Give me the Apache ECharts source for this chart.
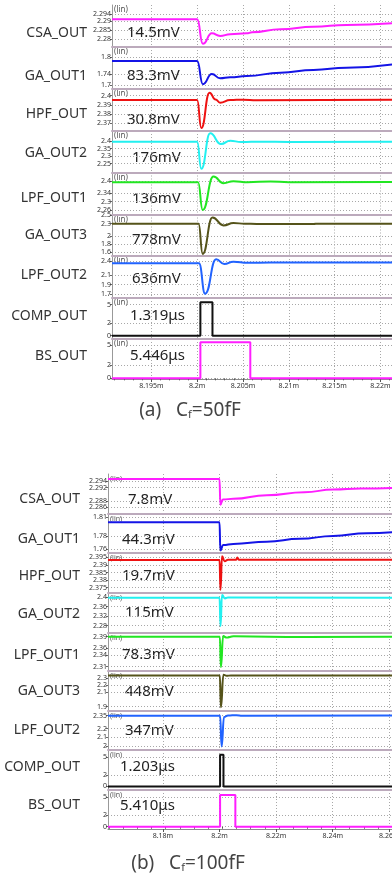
<!DOCTYPE html>
<html>
<head>
<meta charset="utf-8">
<script src="https://cdn.jsdelivr.net/npm/echarts@6/dist/echarts.min.js"></script>
<style>
  html, body { margin: 0; padding: 0; background: #fff; }
  #chart { width: 392px; height: 876px; }
</style>
</head>
<body>
<div id="chart"></div>
<script>
// signal names and colours (same order in both panels)
const signalNames = ['CSA_OUT', 'GA_OUT1', 'HPF_OUT', 'GA_OUT2', 'LPF_OUT1', 'GA_OUT3', 'LPF_OUT2', 'COMP_OUT', 'BS_OUT'];
const signalColors = ['#ff1eff', '#1414e6', '#ee1111', '#22f0f0', '#22e622', '#55531a', '#2163ff', '#111111', '#ff1eff'];
const digital = [false, false, false, false, false, false, false, true, true];

// measured amplitudes
const valuesA = ['14.5mV', '83.3mV', '30.8mV', '176mV', '136mV', '778mV', '636mV', '1.319μs', '5.446μs'];
const valuesB = ['7.8mV', '44.3mV', '19.7mV', '115mV', '78.3mV', '448mV', '347mV', '1.203μs', '5.410μs'];

// time axis (µs), labels shown as ms
const xRangeA = [8190.7, 8221.38];
const xTicksA = [8195, 8200, 8205, 8210, 8215, 8220];
const xRangeB = [8160.6, 8261.3];
const xTicksB = [8180, 8200, 8220, 8240, 8260];

// y tick labels per strip
const yTicksA = [
  [2.294, 2.29, 2.285, 2.28], [1.8, 1.74, 1.7], [2.4, 2.39, 2.38, 2.37], [2.4, 2.35, 2.3, 2.25],
  [2.4, 2.34, 2.3, 2.26], [2.5, 2.3, 2, 1.8, 1.6], [2.4, 2.1, 1.9, 1.7], [5, 2, 0], [5, 2, 0]
];
const yTicksB = [
  [2.294, 2.292, 2.288, 2.286], [1.81, 1.78, 1.76], [2.395, 2.39, 2.385, 2.38, 2.375], [2.4, 2.36, 2.32, 2.28],
  [2.39, 2.36, 2.34, 2.31], [2.3, 2.2, 2.1, 1.9], [2.35, 2.2, 2.1, 2], [5, 2, 0], [5, 2, 0]
];
// y ranges per strip
const yRangeA = [
  [2.2754, 2.2994], [1.6856, 1.8372], [2.3616, 2.4073], [2.1915, 2.4672], [2.237, 2.4426],
  [1.5095, 2.524], [1.6143, 2.506], [-0.53, 6.08], [-0.1, 5.89]
];
const yRangeB = [
  [2.284, 2.2961], [1.7537, 1.8152], [2.3715, 2.3979], [2.249, 2.418], [2.2985, 2.40],
  [1.839, 2.403], [1.954, 2.404], [-0.6, 6.23], [-0.39, 6.26]
];

// (a) Cf=50fF waveforms, [time µs, volts]
const csaA = [[8190.7, 2.2912], [8200.0, 2.2912], [8200.62, 2.2772], [8201.6, 2.2832], [8202.5, 2.2817], [8203.6, 2.2827], [8205.4, 2.2832], [8206.0, 2.2838], [8209.1, 2.2855], [8212.7, 2.2870], [8216.3, 2.2880], [8221.4, 2.2890]];
const ga1A = [[8190.7, 1.7867], [8200.0, 1.7867], [8200.62, 1.7030], [8201.6, 1.7397], [8202.5, 1.7242], [8203.6, 1.7278], [8205.4, 1.7325], [8209.1, 1.7444], [8212.7, 1.7542], [8216.3, 1.7625], [8221.4, 1.7747]];
const hpfA = [[8190.7, 2.3953], [8200.0, 2.3953], [8200.45, 2.3648], [8201.35, 2.4033], [8202.0, 2.3960], [8202.5, 2.3924], [8203.6, 2.3953], [8205.0, 2.3957], [8206.5, 2.3950], [8221.4, 2.3955]];
const ga2A = [[8190.7, 2.3953], [8200.0, 2.3953], [8200.45, 2.216], [8201.42, 2.4517], [8202.6, 2.3807], [8203.6, 2.4029], [8204.8, 2.3940], [8207.0, 2.3965], [8210.0, 2.3945], [8221.4, 2.3955]];
const lpf1A = [[8190.7, 2.3953], [8200.1, 2.3953], [8200.6, 2.259], [8201.78, 2.423], [8202.87, 2.3904], [8203.96, 2.4002], [8205.5, 2.3950], [8208.0, 2.3990], [8210.0, 2.3950], [8221.4, 2.3965]];
const ga3A = [[8190.7, 2.300], [8200.15, 2.300], [8200.6, 1.56], [8201.67, 2.452], [8202.87, 2.258], [8203.96, 2.314], [8205.2, 2.300], [8206.5, 2.292], [8212.7, 2.292], [8213.2, 2.300], [8221.4, 2.300]];
const lpf2A = [[8190.7, 2.351], [8200.2, 2.351], [8200.87, 1.705], [8202.07, 2.436], [8202.95, 2.336], [8203.96, 2.385], [8205.5, 2.362], [8208.0, 2.368], [8221.4, 2.366]];
const compA = [[8190.7, 0], [8200.35, 0], [8200.35, 5.4], [8201.67, 5.4], [8201.67, 0], [8221.4, 0]];
const bsA = [[8190.7, 0], [8200.35, 0], [8200.35, 5.4], [8205.8, 5.4], [8205.8, 0], [8221.4, 0]];

// (b) Cf=100fF waveforms
const csaB = [[8160.6, 2.2946], [8200.0, 2.2946], [8200.3, 2.2868], [8201.2, 2.2884], [8204.9, 2.2886], [8216.7, 2.2897], [8230.0, 2.2906], [8240.2, 2.2914], [8250.0, 2.2917], [8261.3, 2.2919]];
const ga1B = [[8160.6, 1.8021], [8200.0, 1.8021], [8200.3, 1.7578], [8201.3, 1.7662], [8204.9, 1.7680], [8216.7, 1.7716], [8228.4, 1.7760], [8240.2, 1.7807], [8252.0, 1.7850], [8261.3, 1.7866]];
const hpfB = [[8160.6, 2.3933], [8200.0, 2.3933], [8200.35, 2.3736], [8200.9, 2.3957], [8201.8, 2.3925], [8203.0, 2.3935], [8205.9, 2.3935], [8206.3, 2.3950], [8206.8, 2.3935], [8261.3, 2.3935]];
const ga2B = [[8160.6, 2.398], [8200.0, 2.398], [8200.35, 2.278], [8200.9, 2.410], [8201.9, 2.395], [8203.0, 2.399], [8261.3, 2.398]];
const lpf1B = [[8160.6, 2.390], [8200.1, 2.390], [8200.5, 2.309], [8201.3, 2.392], [8202.3, 2.388], [8205.0, 2.391], [8230.0, 2.389], [8261.3, 2.390]];
const ga3B = [[8160.6, 2.339], [8200.1, 2.339], [8200.5, 1.891], [8201.4, 2.350], [8202.5, 2.335], [8204.0, 2.341], [8261.3, 2.339]];
const lpf2B = [[8160.6, 2.350], [8200.2, 2.350], [8200.75, 1.995], [8201.6, 2.335], [8203.0, 2.352], [8206.0, 2.356], [8208.0, 2.350], [8261.3, 2.351]];
const compB = [[8160.6, 0], [8200.2, 0], [8200.2, 5.4], [8201.4, 5.4], [8201.4, 0], [8261.3, 0]];
const bsB = [[8160.6, 0], [8200.2, 0], [8200.2, 5.4], [8205.6, 5.4], [8205.6, 0], [8261.3, 0]];

const FONT = 'Noto Sans';

// layout of the two panels
const panels = [
  {
    left: 112, tops: [5, 47, 89, 131, 172.5, 214.5, 256, 298, 339, 379],
    xRange: xRangeA, xTicks: xTicksA, minorStep: 1,
    yTicks: yTicksA, yRange: yRangeA, data: [csaA, ga1A, hpfA, ga2A, lpf1A, ga3A, lpf2A, compA, bsA],
    values: valuesA, nameRight: 87, nameY: [33, 76, 114, 153, 198, 235, 275, 316, 356],
    valX: [127, 127, 127, 132, 132, 132, 132, 130, 130], valY: [33, 76, 120, 158, 199, 240, 279, 316, 356],
    linSize: 8, caption: { x: 190, y: 411, label: '(a)', text: '=50fF' }
  },
  {
    left: 108, tops: [474, 514, 553, 593, 633, 671, 711, 750, 790, 829],
    xRange: xRangeB, xTicks: xTicksB, minorStep: 5,
    yTicks: yTicksB, yRange: yRangeB, data: [csaB, ga1B, hpfB, ga2B, lpf1B, ga3B, lpf2B, compB, bsB],
    values: valuesB, nameRight: 80, nameY: [499, 539, 576, 614, 655, 691, 730, 767, 805],
    valX: [128, 122, 122, 125, 122, 125, 125, 120, 120], valY: [500, 540, 576, 613, 655, 692, 731, 767, 806],
    linSize: 7, caption: { x: 188, y: 864, label: '(b)', text: '=100fF' }
  }
];

const fmtX = v => String(+(v / 1000).toFixed(3)) + 'm';
const dotted = { color: '#a8a8a8', type: [1, 2], width: 1 };

const option = { animation: false, grid: [], xAxis: [], yAxis: [], series: [], graphic: [] };
const minorAxes = [];
const altYAxes = [];
let g = 0;

function text(x, y, str, size, align, color) {
  option.graphic.push({
    type: 'text', x, y, silent: true,
    style: { text: str, font: size + 'px "' + FONT + '"', fill: color, align, verticalAlign: 'middle' }
  });
}

// y axis; close labels are split over two axes so none is dropped as overlapping
function yAxisFor(gi, range, ticks, withLine) {
  return {
    type: 'value', gridIndex: gi, min: range[0], max: range[1], position: 'left', offset: 0,
    axisLine: { show: withLine, onZero: false, lineStyle: { color: '#999', width: 1 } },
    axisTick: { show: true, customValues: ticks, length: 2, lineStyle: { color: '#666' } },
    axisLabel: {
      show: true, customValues: ticks, formatter: v => '' + v, fontSize: 7, margin: 1,
      color: '#333', fontFamily: FONT, hideOverlap: false, showMinLabel: true, showMaxLabel: true
    },
    splitLine: { show: true, lineStyle: dotted }
  };
}

panels.forEach(p => {
  for (let i = 0; i < 9; i++) {
    const last = i === 8;
    const top = p.tops[i];
    const h = p.tops[i + 1] - top;
    option.grid.push({ left: p.left, top, width: 393 - p.left, height: h, outerBoundsMode: 'none' });
    option.xAxis.push({
      type: 'value', gridIndex: g, min: p.xRange[0], max: p.xRange[1], position: 'bottom',
      axisLine: { show: true, onZero: false, lineStyle: { color: last ? '#8c8c8c' : '#bcaabc', width: last ? 1 : 2 } },
      axisTick: { show: last, customValues: p.xTicks, length: 3, lineStyle: { color: '#555' } },
      axisLabel: {
        show: last, customValues: p.xTicks, formatter: fmtX, fontSize: 7, margin: 3, color: '#333', fontFamily: FONT,
        showMinLabel: true, showMaxLabel: true, hideOverlap: false
      },
      splitLine: { show: true, lineStyle: dotted }
    });
    const ticks = p.yTicks[i];
    option.yAxis.push(yAxisFor(g, p.yRange[i], ticks.filter((_, k) => k % 2 === 0), true));
    altYAxes.push(yAxisFor(g, p.yRange[i], ticks.filter((_, k) => k % 2 === 1), false));
    option.series.push({
      type: 'line', xAxisIndex: g, yAxisIndex: g, data: p.data[i],
      showSymbol: false, symbol: 'none', silent: true,
      smooth: digital[i] ? false : 0.5, smoothMonotone: 'x',
      lineStyle: { color: signalColors[i], width: 2 }, itemStyle: { color: signalColors[i] }
    });
    text(p.nameRight, p.nameY[i], signalNames[i], 14, 'right', '#333');
    text(p.valX[i], p.valY[i], p.values[i], 15, 'left', '#222');
    text(p.left + 2, top + 5, '(lin)', p.linSize, 'left', '#555');
    g++;
  }
  const minors = [];
  for (let t = Math.ceil(p.xRange[0]); t <= p.xRange[1]; t += p.minorStep) minors.push(t);
  minorAxes.push({
    type: 'value', gridIndex: g - 1, min: p.xRange[0], max: p.xRange[1], position: 'bottom',
    axisLine: { show: false }, axisTick: { show: true, customValues: minors, length: 2, lineStyle: { color: '#555' } },
    axisLabel: { show: false }, splitLine: { show: false }
  });
  option.graphic.push({
    type: 'text', x: p.caption.x, y: p.caption.y, silent: true,
    style: {
      text: '{c|' + p.caption.label + '   C}{s|f}{c|' + p.caption.text + '}',
      font: '19px "' + FONT + '"', fill: '#444', align: 'center', verticalAlign: 'middle',
      rich: {
        c: { fontSize: 19, fontFamily: FONT, fill: '#444', verticalAlign: 'bottom' },
        s: { fontSize: 11, fontFamily: FONT, fill: '#444', verticalAlign: 'bottom', lineHeight: 8 }
      }
    }
  });
});
option.xAxis.push(...minorAxes);
option.yAxis.push(...altYAxes);

const chart = echarts.init(document.getElementById('chart'));
chart.setOption(option);
</script>
</body>
</html>
